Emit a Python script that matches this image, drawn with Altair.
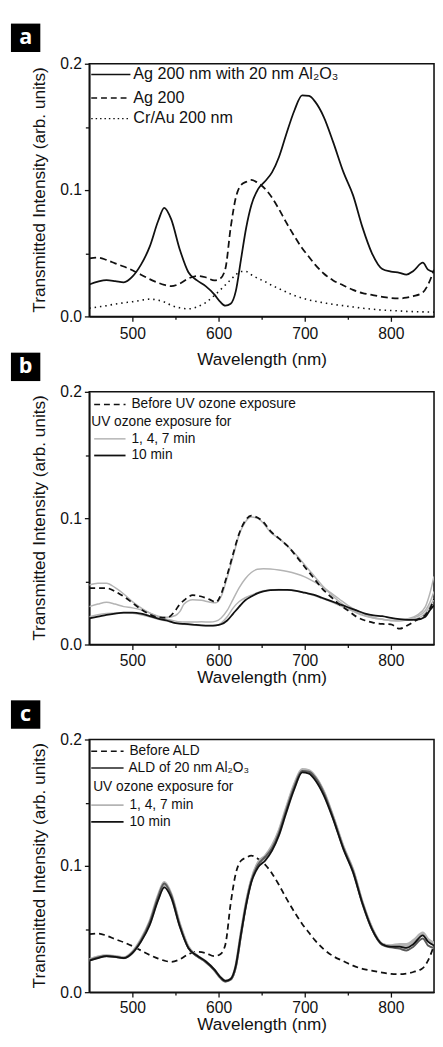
import altair as alt
import pandas as pd

# ---------------- data ----------------
# panels a and c share this wavelength grid (nm)
wl_a = [450, 460, 470, 480, 490, 500, 510, 520, 530, 537,
        545, 555, 565, 575, 585, 595, 602, 608, 614, 620,
        626, 632, 638, 646, 654, 662, 670, 678, 688, 697,
        705, 712, 722, 733, 745, 756, 767, 778, 790, 800,
        810, 818, 826, 837, 843, 850]

ag_al2o3 = [0.0253, 0.0275, 0.0287, 0.028, 0.027, 0.0315, 0.041, 0.055, 0.0757, 0.086,
            0.077, 0.053, 0.035, 0.0285, 0.024, 0.0175, 0.0115, 0.0085, 0.010, 0.020,
            0.045, 0.070, 0.088, 0.101, 0.107, 0.114, 0.126, 0.143, 0.163, 0.175,
            0.1745, 0.170, 0.158, 0.138, 0.114, 0.096, 0.0705, 0.050, 0.0375, 0.0355,
            0.0345, 0.033, 0.036, 0.0425, 0.037, 0.035]

ag200 = [0.046, 0.0465, 0.0447, 0.042, 0.0395, 0.0365, 0.033, 0.0295, 0.0266, 0.025,
         0.024, 0.026, 0.030, 0.032, 0.031, 0.0285, 0.030, 0.038, 0.070, 0.094,
         0.104, 0.1065, 0.108, 0.1055, 0.101, 0.094, 0.085, 0.075, 0.0635, 0.054,
         0.047, 0.041, 0.034, 0.0285, 0.0245, 0.021, 0.0185, 0.017, 0.0155, 0.0145,
         0.0142, 0.0148, 0.016, 0.019, 0.025, 0.037]

crau = [0.0065, 0.0075, 0.0085, 0.0098, 0.0108, 0.0116, 0.0128, 0.0137, 0.0128, 0.0115,
        0.0088, 0.0068, 0.006, 0.0075, 0.011, 0.0165, 0.021, 0.025, 0.029, 0.033,
        0.0355, 0.0355, 0.033, 0.030, 0.0275, 0.0245, 0.022, 0.0195, 0.0165, 0.0145,
        0.013, 0.012, 0.0108, 0.0095, 0.0085, 0.0075, 0.0065, 0.0058, 0.005, 0.0047,
        0.0043, 0.004, 0.0038, 0.0036, 0.0035, 0.0034]

# panel b wavelength grid (nm)
wl_b = [450, 460, 470, 480, 490, 500, 510, 520, 530, 540,
        550, 555, 560, 570, 580, 590, 597, 603, 610, 617,
        624, 631, 638, 645, 652, 660, 670, 680, 690, 700,
        710, 720, 730, 740, 750, 760, 770, 780, 790, 800,
        810, 820, 830, 840, 845, 850]

before_uv = [0.0446, 0.0446, 0.0446, 0.042, 0.038, 0.033, 0.028, 0.024, 0.0215, 0.0212,
             0.027, 0.032, 0.035, 0.039, 0.038, 0.0355, 0.0335, 0.040, 0.055, 0.072,
             0.088, 0.098, 0.102, 0.1005, 0.097, 0.090, 0.084, 0.078, 0.070, 0.0614,
             0.053, 0.0445, 0.038, 0.0318, 0.027, 0.022, 0.019, 0.0172, 0.0163, 0.016,
             0.0125, 0.0155, 0.0195, 0.0235, 0.028, 0.036]

uv_1 = [0.047, 0.0485, 0.0485, 0.045, 0.040, 0.034, 0.029, 0.025, 0.0225, 0.0215,
        0.023, 0.026, 0.032, 0.0355, 0.035, 0.0335, 0.033, 0.038, 0.053, 0.070,
        0.087, 0.097, 0.101, 0.100, 0.096, 0.089, 0.084, 0.078, 0.071, 0.063,
        0.055, 0.047, 0.040, 0.034, 0.029, 0.025, 0.0225, 0.021, 0.020, 0.019,
        0.0195, 0.0205, 0.023, 0.030, 0.040, 0.054]

uv_4 = [0.030, 0.032, 0.0335, 0.032, 0.030, 0.029, 0.0275, 0.025, 0.022, 0.020,
        0.0185, 0.018, 0.0178, 0.0178, 0.018, 0.0178, 0.0185, 0.021, 0.027, 0.036,
        0.045, 0.052, 0.057, 0.0595, 0.060, 0.0598, 0.059, 0.0578, 0.056, 0.0535,
        0.050, 0.046, 0.041, 0.036, 0.031, 0.027, 0.024, 0.0215, 0.020, 0.019,
        0.019, 0.020, 0.022, 0.027, 0.033, 0.042]

uv_7 = [0.022, 0.0235, 0.0245, 0.025, 0.025, 0.0248, 0.0235, 0.022, 0.020, 0.0185,
        0.017, 0.0165, 0.016, 0.0155, 0.015, 0.0148, 0.015, 0.017, 0.022, 0.029,
        0.034, 0.037, 0.039, 0.041, 0.0425, 0.0432, 0.0435, 0.0432, 0.0425, 0.041,
        0.039, 0.0365, 0.034, 0.031, 0.028, 0.0255, 0.023, 0.021, 0.020, 0.019,
        0.0185, 0.0195, 0.0205, 0.025, 0.030, 0.036]

uv_10 = [0.0207, 0.022, 0.0235, 0.0245, 0.0252, 0.0253, 0.0245, 0.0225, 0.0205, 0.019,
         0.017, 0.0165, 0.0163, 0.0158, 0.0152, 0.015, 0.0152, 0.016, 0.019, 0.0245,
         0.030, 0.035, 0.038, 0.0405, 0.042, 0.043, 0.0433, 0.0432, 0.0425, 0.041,
         0.0395, 0.037, 0.0345, 0.032, 0.0295, 0.027, 0.0245, 0.023, 0.0225, 0.021,
         0.020, 0.0195, 0.0197, 0.022, 0.027, 0.031]

# panel c (on wl_a grid): before ALD = ag200, ALD = ag_al2o3
c_uv1 = [0.026, 0.028, 0.029, 0.0285, 0.0275, 0.032, 0.042, 0.056, 0.077, 0.087,
         0.078, 0.054, 0.036, 0.029, 0.024, 0.0175, 0.0115, 0.0085, 0.010, 0.021,
         0.047, 0.071, 0.089, 0.103, 0.108, 0.116, 0.128, 0.145, 0.165, 0.1765,
         0.1755, 0.171, 0.159, 0.139, 0.115, 0.097, 0.071, 0.051, 0.038, 0.037,
         0.038, 0.038, 0.041, 0.047, 0.042, 0.039]

c_uv4 = [0.0255, 0.0278, 0.0288, 0.0282, 0.0272, 0.0315, 0.041, 0.0545, 0.0755, 0.0855,
         0.0765, 0.0535, 0.0355, 0.0288, 0.0242, 0.0178, 0.0118, 0.0088, 0.0103, 0.0205,
         0.046, 0.0705, 0.0885, 0.102, 0.1072, 0.1148, 0.1268, 0.1438, 0.1638, 0.1755,
         0.1748, 0.1705, 0.1585, 0.1385, 0.1145, 0.0965, 0.0708, 0.0505, 0.0378, 0.0365,
         0.037, 0.0368, 0.0395, 0.0455, 0.041, 0.038]

c_uv7 = [0.0252, 0.0272, 0.0285, 0.028, 0.027, 0.031, 0.0405, 0.0535, 0.074, 0.084,
         0.0755, 0.0525, 0.0352, 0.0288, 0.0243, 0.018, 0.012, 0.009, 0.0104, 0.0208,
         0.0462, 0.0695, 0.0875, 0.0995, 0.1045, 0.1125, 0.1245, 0.1415, 0.1615, 0.1745,
         0.1735, 0.1685, 0.1565, 0.1375, 0.1135, 0.0955, 0.0702, 0.0502, 0.038, 0.036,
         0.0362, 0.0355, 0.0385, 0.0455, 0.0405, 0.0375]

c_uv10 = [0.025, 0.027, 0.0285, 0.028, 0.027, 0.031, 0.040, 0.053, 0.073, 0.083,
          0.075, 0.052, 0.035, 0.029, 0.0245, 0.018, 0.012, 0.009, 0.0105, 0.021,
          0.046, 0.069, 0.087, 0.099, 0.104, 0.112, 0.124, 0.141, 0.161, 0.174,
          0.173, 0.168, 0.156, 0.137, 0.113, 0.095, 0.070, 0.050, 0.038, 0.036,
          0.036, 0.035, 0.038, 0.045, 0.040, 0.037]

legend_a = ["Ag 200 nm with 20 nm", "Al₂O₃", "Ag 200", "Cr/Au 200 nm"]
legend_b = ["Before UV ozone exposure", "UV ozone exposure for", "1, 4, 7 min", "10 min"]
legend_c = ["Before ALD", "ALD of 20 nm Al₂O₃", "UV ozone exposure for", "1, 4, 7 min", "10 min"]
panel_labels = ["a", "b", "c"]
x_ticks = [500, 550, 600, 650, 700, 750, 800]
y_ticks = [0.0, 0.05, 0.1, 0.15, 0.2]
x_title = "Wavelength (nm)"
# y title "Transmitted Intensity (arb. units)", set word by word
y_title_words = ["Transmitted", "Intensity", "(arb.", "units)"]
y_word_offsets = [-79.3, 4.4, 59.8, 104.1]  # word centres above the plot's middle, px

# ---------------- styling ----------------
W, H = 352, 258
FONT = "Liberation Sans"
BLACK = "#111111"
LIGHT = "#b4b4b4"
DARK = "#5a5a5a"

X_MAJOR = "datum.value % 100 === 0"
Y_MAJOR = "round(datum.value * 100) % 10 === 0"


def x_enc(title_pad, label_pad):
    return alt.X(
        "wl:Q",
        scale=alt.Scale(domain=[450, 850], nice=False, zero=False),
        axis=alt.Axis(
            values=x_ticks,
            labelExpr=X_MAJOR + " ? datum.label : ''",
            tickSize={"condition": {"test": X_MAJOR, "value": 5}, "value": 3},
            title=x_title, titlePadding=title_pad, labelPadding=label_pad,
            grid=False, labelFlush=False, labelOverlap=False,
        ),
    )


def y_enc():
    return alt.Y(
        "v:Q",
        scale=alt.Scale(domain=[0, 0.2], nice=False),
        axis=alt.Axis(
            values=y_ticks, format=".1f",
            labelExpr=Y_MAJOR + " ? datum.label : ''",
            tickSize={"condition": {"test": Y_MAJOR, "value": 5}, "value": 4},
            title=None, labelPadding=3, grid=False,
            labelFlush=False, labelOverlap=False,
        ),
    )


def line(wl, vals, color, width, dash, xe, ye):
    df = pd.DataFrame({"wl": wl, "v": vals})
    kw = dict(color=color, strokeWidth=width, interpolate="monotone", clip=True)
    if dash:
        kw["strokeDash"] = dash
    return alt.Chart(df).mark_line(**kw).encode(x=xe, y=ye)


def leg_line(x1, x2, y, color, width, dash=None):
    kw = dict(color=color, strokeWidth=width)
    if dash:
        kw["strokeDash"] = dash
    return alt.Chart(pd.DataFrame({"d": [0]})).mark_rule(**kw).encode(
        x=alt.value(x1), x2=alt.value(x2), y=alt.value(y))


def leg_text(x, y, txt, size):
    return alt.Chart(pd.DataFrame({"t": [txt]})).mark_text(
        align="left", baseline="middle", font=FONT, fontSize=size, color=BLACK
    ).encode(x=alt.value(x), y=alt.value(y), text="t:N")


def y_title(h):
    out = []
    for word, off in zip(y_title_words, y_word_offsets):
        out.append(alt.Chart(pd.DataFrame({"t": [word]})).mark_text(
            align="center", baseline="middle", angle=270, font=FONT,
            fontSize=17.5, color=BLACK
        ).encode(x=alt.value(-50), y=alt.value(h / 2 - off), text="t:N"))
    return out


def tag(y_top, letter):
    box = alt.Chart(pd.DataFrame({"d": [0]})).mark_rect(color="#000000").encode(
        x=alt.value(-80), x2=alt.value(-50), y=alt.value(y_top), y2=alt.value(y_top + 29))
    txt = alt.Chart(pd.DataFrame({"t": [letter]})).mark_text(
        align="center", baseline="middle", font="Open Sans", fontSize=22,
        fontWeight="bold", color="white"
    ).encode(x=alt.value(-65), y=alt.value(y_top + 14), text="t:N")
    return [box, txt]


# ---------------- panel a ----------------
xa, ya = x_enc(9, 5), y_enc()
panel_a = alt.layer(
    line(wl_a, crau, BLACK, 1.6, [1.5, 4], xa, ya),
    line(wl_a, ag200, BLACK, 1.8, [7, 4], xa, ya),
    line(wl_a, ag_al2o3, BLACK, 1.8, None, xa, ya),
    leg_line(2, 42, 11, BLACK, 1.6),
    leg_text(45, 11, legend_a[0], 16.5),
    leg_text(213.7, 11, legend_a[1], 16.5),
    leg_line(2, 42, 35, BLACK, 1.6, [6, 4]),
    leg_text(45, 35, legend_a[2], 16.5),
    leg_line(2, 42, 56, BLACK, 1.2, [1.5, 3]),
    leg_text(45, 56, legend_a[3], 16.5),
    *y_title(H),
    *tag(-41, panel_labels[0]),
    *tag(H + 37, panel_labels[1]),
).properties(width=W, height=H)

# ---------------- panel b ----------------
xb, yb = x_enc(1, 3), y_enc()
panel_b = alt.layer(
    line(wl_b, uv_7, LIGHT, 1.5, None, xb, yb),
    line(wl_b, uv_4, LIGHT, 1.5, None, xb, yb),
    line(wl_b, uv_1, LIGHT, 1.5, None, xb, yb),
    line(wl_b, before_uv, BLACK, 1.8, [6, 4], xb, yb),
    line(wl_b, uv_10, BLACK, 1.8, None, xb, yb),
    leg_line(5, 37, 13, BLACK, 1.6, [6, 4]),
    leg_text(43, 13, legend_b[0], 14),
    leg_text(2, 31, legend_b[1], 14),
    leg_line(5, 37, 48, LIGHT, 1.5),
    leg_text(43, 48, legend_b[2], 14),
    leg_line(5, 37, 65, BLACK, 1.8),
    leg_text(43, 65, legend_b[3], 14),
    *y_title(H),
    *tag(H + 57, panel_labels[2]),
).properties(width=W, height=H)

# ---------------- panel c ----------------
xc, yc = x_enc(0, 3), y_enc()
panel_c = alt.layer(
    line(wl_a, ag200, BLACK, 1.8, [6, 4], xc, yc),
    line(wl_a, c_uv1, LIGHT, 2.5, None, xc, yc),
    line(wl_a, c_uv4, LIGHT, 2.5, None, xc, yc),
    line(wl_a, c_uv7, LIGHT, 2.5, None, xc, yc),
    line(wl_a, ag_al2o3, DARK, 2.0, None, xc, yc),
    line(wl_a, c_uv10, BLACK, 1.8, None, xc, yc),
    leg_line(2, 35, 12, BLACK, 1.6, [6, 4]),
    leg_text(41, 12, legend_c[0], 14),
    leg_line(2, 35, 29, DARK, 2.0),
    leg_text(40, 29, legend_c[1], 14),
    leg_text(4, 49, legend_c[2], 14),
    leg_line(2, 35, 67, LIGHT, 2.0),
    leg_text(41, 67, legend_c[3], 14),
    leg_line(2, 35, 84, BLACK, 1.8),
    leg_text(41, 84, legend_c[4], 14),
    *y_title(H),
    alt.Chart(pd.DataFrame({"d": [0]})).mark_rect(opacity=0).encode(
        x=alt.value(-80), x2=alt.value(-79), y=alt.value(100), y2=alt.value(101)),
).properties(width=W, height=H)

chart = alt.vconcat(panel_a, panel_b, panel_c, spacing=1).properties(
    padding={"left": 2, "top": 4, "right": 0, "bottom": 0}
).configure(font=FONT).configure_view(
    stroke=BLACK, strokeWidth=1.6
).configure_axis(
    domainColor=BLACK, domainWidth=1.6, tickColor=BLACK, tickWidth=1.3,
    labelFont=FONT, labelFontSize=16, labelColor=BLACK,
    titleFont=FONT, titleFontSize=17.5, titleFontWeight="normal", titleColor=BLACK,
)

chart.save("out.html", embed_options={"renderer": "svg", "actions": False})
